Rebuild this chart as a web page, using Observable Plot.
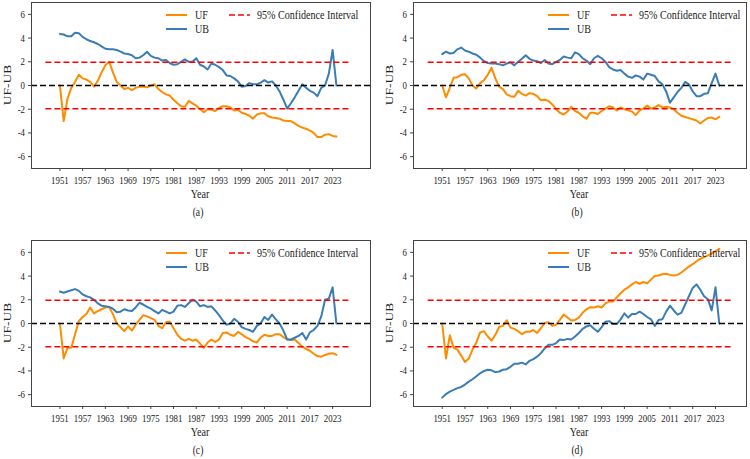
<!DOCTYPE html>
<html><head><meta charset="utf-8">
<script src="https://cdn.jsdelivr.net/npm/d3@7"></script>
<script src="https://cdn.jsdelivr.net/npm/@observablehq/plot@0.6"></script>
<style>
body{margin:0;background:#fff;}
#fig{position:relative;width:750px;height:459px;overflow:hidden;font-family:"Liberation Serif","Times New Roman",serif;color:#222;background:#fff;}
.panel{position:absolute;}
.lbl{position:absolute;font-size:13px;white-space:nowrap;transform:translate(-50%,-50%) scaleX(0.78);line-height:1;}
.cap{position:absolute;font-size:12px;white-space:nowrap;transform:translate(-50%,-50%) scaleX(0.8);line-height:1;}
.ylbl{position:absolute;font-size:13.5px;white-space:nowrap;transform:translate(-50%,-50%) scaleX(0.8) rotate(-90deg);line-height:1;}
.legtxt{position:absolute;font-size:12px;white-space:nowrap;transform-origin:0 50%;transform:translateY(-50%) scaleX(0.84);line-height:1;}
.legsw{position:absolute;overflow:visible;}
</style></head><body><div id="fig"></div>
<script>
const years = d3.range(1951, 2025);
const xTicks = [1951,1957,1963,1969,1975,1981,1987,1993,1999,2005,2011,2017,2023];
const yTicks = [-6,-4,-2,0,2,4,6];
const confLevel = 1.96;
const confSpan = [1947.3, 2027.7];
const seriesNames = ["UF", "UB"];
const confName = "95% Confidence Interval";
const captions = ["(a)", "(b)", "(c)", "(d)"];

const ufA = [0,-3.0,-1.1,-0.2,0.3,0.9,0.6,0.5,0.3,-0.1,
  0.4,1.1,1.7,2.0,1.1,0.3,0.0,-0.3,-0.2,-0.4,
  -0.2,-0.1,-0.1,-0.15,0.0,0.1,-0.3,-0.55,-0.75,-0.85,
  -1.2,-1.5,-1.75,-1.8,-1.3,-1.5,-1.7,-2.0,-2.25,-2.0,
  -2.05,-2.15,-1.9,-1.75,-1.75,-1.85,-2.1,-2.05,-2.3,-2.4,
  -2.55,-2.8,-2.45,-2.35,-2.35,-2.6,-2.7,-2.75,-2.8,-2.95,
  -3.0,-3.0,-3.2,-3.4,-3.55,-3.65,-3.8,-4.0,-4.35,-4.35,
  -4.15,-4.1,-4.25,-4.3];
const ubA = [4.35,4.3,4.15,4.15,4.45,4.4,4.1,3.9,3.75,3.65,
  3.5,3.3,3.1,3.05,3.05,3.0,2.85,2.7,2.65,2.55,
  2.3,2.35,2.55,2.85,2.5,2.35,2.3,2.1,2.15,1.9,
  1.75,1.8,2.0,2.2,2.0,2.0,2.3,1.75,1.6,1.35,
  1.85,1.75,1.55,1.3,0.85,0.8,0.6,0.35,-0.1,-0.05,
  0.2,0.1,0.1,0.25,0.45,0.25,0.35,0.0,-0.5,-1.2,
  -1.95,-1.5,-1.0,-0.45,0.1,-0.2,-0.45,-0.6,-0.9,-0.2,
  0.0,1.0,3.0,0];
const ufB = [0,-1.0,-0.2,0.65,0.7,0.9,0.95,0.6,0.0,-0.25,
  0.2,0.45,0.9,1.5,0.6,-0.1,-0.3,-0.75,-0.9,-0.95,
  -0.45,-0.7,-0.85,-0.65,-0.7,-0.9,-1.25,-1.2,-1.3,-1.6,
  -2.0,-2.3,-2.45,-2.2,-1.8,-2.15,-2.3,-2.6,-2.8,-2.3,
  -2.3,-2.4,-2.15,-1.95,-1.75,-1.85,-2.1,-1.85,-2.0,-2.1,
  -2.2,-2.5,-2.1,-1.95,-1.7,-1.95,-1.85,-1.65,-1.85,-1.8,
  -1.85,-2.0,-2.3,-2.55,-2.65,-2.75,-2.85,-2.95,-3.2,-2.95,
  -2.75,-2.7,-2.85,-2.65];
const ubB = [2.65,2.85,2.7,2.75,3.05,3.2,2.95,2.85,2.7,2.6,
  2.35,2.05,1.9,1.85,1.85,1.8,1.7,1.85,1.95,1.7,
  2.0,2.25,2.55,2.25,2.1,2.05,1.9,2.15,1.85,1.8,
  2.0,2.15,2.45,2.35,2.3,2.8,2.65,2.3,2.1,1.8,
  2.3,2.5,2.3,2.0,1.55,1.35,1.25,1.3,1.0,0.75,
  0.65,0.85,0.75,0.5,1.0,0.9,0.8,0.35,0.1,-0.5,
  -1.45,-1.0,-0.55,-0.2,0.3,0.1,-0.5,-0.9,-0.9,-0.7,
  -0.65,0.2,1.0,0];
const ufC = [0,-2.95,-2.05,-2.05,-0.9,0.2,0.55,0.8,1.35,0.85,
  1.05,1.2,1.35,1.4,0.8,0.0,-0.3,-0.65,-0.25,-0.6,
  -0.1,0.3,0.7,0.6,0.45,0.3,-0.2,-0.4,0.1,0.15,
  -0.4,-0.95,-1.3,-1.45,-1.3,-1.45,-1.35,-1.7,-2.05,-1.6,
  -1.35,-1.55,-1.35,-0.8,-0.75,-0.95,-1.05,-0.7,-0.9,-1.15,
  -1.3,-1.5,-1.6,-1.2,-0.95,-1.05,-1.05,-0.9,-0.9,-1.15,
  -1.35,-1.4,-1.35,-1.65,-1.95,-2.15,-2.3,-2.55,-2.75,-2.8,
  -2.65,-2.55,-2.5,-2.65];
const ubC = [2.7,2.6,2.7,2.8,2.9,2.75,2.45,2.3,2.2,2.0,
  1.7,1.5,1.45,1.4,1.25,0.95,1.0,1.2,1.1,1.05,
  1.35,1.75,1.6,1.4,1.25,1.05,0.85,1.15,1.0,0.85,
  1.0,1.5,1.55,1.4,1.7,2.0,1.85,1.45,1.55,1.4,
  1.45,1.1,0.7,0.25,-0.1,0.0,0.4,0.15,-0.3,-0.45,
  -0.55,-0.7,-0.2,0.0,0.55,0.3,0.75,0.35,0.0,-0.6,
  -1.35,-1.35,-1.2,-1.05,-0.8,-1.35,-0.75,-0.55,-0.2,0.6,
  2.0,2.1,3.05,0];
const ufD = [0,-2.95,-1.0,-2.05,-2.2,-2.7,-3.25,-2.95,-2.2,-1.6,
  -0.75,-0.65,-1.1,-1.45,-0.95,-0.3,-0.2,0.28,-0.35,-0.45,
  -0.65,-0.9,-0.7,-0.7,-0.55,-0.8,-0.4,0.05,0.1,-0.2,
  -0.1,0.3,0.75,0.5,0.25,0.3,0.5,0.9,1.2,1.38,
  1.35,1.45,1.35,1.7,1.85,1.85,2.2,2.55,2.85,3.05,
  3.3,3.5,3.35,3.5,3.4,3.7,4.0,4.05,4.15,4.2,
  4.1,4.05,4.1,4.3,4.55,4.8,5.0,5.25,5.45,5.6,
  5.75,5.9,6.1,6.3];
const ubD = [-6.25,-5.95,-5.75,-5.6,-5.45,-5.35,-5.15,-4.9,-4.7,-4.45,
  -4.2,-4.0,-3.9,-3.95,-4.1,-4.05,-3.9,-3.85,-3.65,-3.4,
  -3.4,-3.3,-3.45,-3.15,-3.0,-2.8,-2.5,-2.1,-1.8,-1.8,
  -1.65,-1.35,-1.4,-1.3,-1.35,-1.1,-0.8,-0.45,-0.25,-0.15,
  -0.45,-0.7,-0.3,0.15,0.2,-0.05,-0.05,0.35,0.85,0.5,
  0.8,0.8,1.0,0.8,0.55,0.35,-0.2,0.3,0.35,1.0,
  1.5,1.1,0.75,0.9,1.6,2.3,3.0,3.3,2.85,2.3,
  2.05,1.1,3.05,0];

const colors = {uf: "#ff8c00", ub: "#3a7cb6", conf: "#ff0000", zero: "#000000"};

const layout = [
  {uf: ufA, ub: ubA, left: 0,   top: 0,   ml: 31, mr: 5, dom: [1943.5, 2033]},
  {uf: ufB, ub: ubB, left: 375, top: 0,   ml: 38, mr: 4, dom: [1943.44, 2031.17]},
  {uf: ufC, ub: ubC, left: 0,   top: 238, ml: 31, mr: 5, dom: [1943.5, 2033]},
  {uf: ufD, ub: ubD, left: 375, top: 238, ml: 38, mr: 4, dom: [1943.44, 2031.17]}
];

const fig = document.getElementById("fig");
const W = 375, H = 200, MT = 2, MB = 32;
const FONT = '"Liberation Serif", "Times New Roman", serif';

layout.forEach((p, k) => {
  const rows = years.map((yr, i) => ({year: yr, uf: p.uf[i], ub: p.ub[i]}));
  const chart = Plot.plot({
    width: W, height: H,
    marginLeft: p.ml, marginRight: p.mr, marginTop: MT, marginBottom: MB,
    style: {fontFamily: FONT, fontSize: "11px", color: "#222", background: "transparent", overflow: "visible"},
    x: {domain: p.dom},
    y: {domain: [-7, 7]},
    marks: [
      Plot.lineY(rows, {x: "year", y: "uf", stroke: colors.uf, strokeWidth: 2}),
      Plot.lineY(rows, {x: "year", y: "ub", stroke: colors.ub, strokeWidth: 2}),
      Plot.ruleY([0], {stroke: colors.zero, strokeWidth: 1.6, strokeDasharray: "6,3"}),
      Plot.ruleY([-confLevel, confLevel], {x1: confSpan[0], x2: confSpan[1], stroke: colors.conf, strokeWidth: 1.6, strokeDasharray: "6,3"}),
      Plot.frame({stroke: "#444", strokeWidth: 1}),
      Plot.axisX({ticks: xTicks, tickFormat: d => String(d), tickSize: 3, tickPadding: 5, label: null, stroke: "#444", fill: "#222"}),
      Plot.axisY({ticks: yTicks, tickFormat: d => (d < 0 ? "-" + (-d) : String(d)), tickSize: 3, tickPadding: 3.5, label: null, stroke: "#444", fill: "#222"})
    ]
  });
  const wrap = document.createElement("div");
  wrap.className = "panel";
  wrap.style.left = p.left + "px";
  wrap.style.top = p.top + "px";
  wrap.appendChild(chart);
  fig.appendChild(wrap);
  // horizontally condense tick labels like the reference
  chart.querySelectorAll("text").forEach(t => {
    const w = t.getComputedTextLength();
    if (w > 0) {
      t.setAttribute("textLength", (w * 0.8).toFixed(2));
      t.setAttribute("lengthAdjust", "spacingAndGlyphs");
    }
  });

  const fl = p.left + p.ml, ft = p.top + MT;
  const fw = W - p.ml - p.mr;
  const cx = fl + fw / 2;

  const mk = (cls, txt, x, y) => {
    const d = document.createElement("div");
    d.className = cls; d.textContent = txt;
    d.style.left = x + "px"; d.style.top = y + "px";
    fig.appendChild(d); return d;
  };
  mk("lbl", "Year", cx - 1, p.top + 192.5);
  mk("ylbl", "UF-UB", fl - 23.5, ft + 83);
  mk("cap", captions[k], cx - 3, p.top + 212);

  // legend
  const sw = (x, y, color, dash) => {
    const s = document.createElementNS("http://www.w3.org/2000/svg", "svg");
    s.setAttribute("class", "legsw");
    s.setAttribute("width", 22); s.setAttribute("height", 4);
    s.style.left = x + "px"; s.style.top = (y - 2) + "px";
    const l = document.createElementNS("http://www.w3.org/2000/svg", "line");
    l.setAttribute("x1", 0); l.setAttribute("x2", 21);
    l.setAttribute("y1", 2); l.setAttribute("y2", 2);
    l.setAttribute("stroke", color); l.setAttribute("stroke-width", dash ? 1.6 : 2);
    if (dash) l.setAttribute("stroke-dasharray", "6,3");
    s.appendChild(l); fig.appendChild(s);
  };
  sw(fl + 135, ft + 13, colors.uf, false);
  mk("legtxt", seriesNames[0], fl + 163.5, ft + 13);
  sw(fl + 135, ft + 27.3, colors.ub, false);
  mk("legtxt", seriesNames[1], fl + 163.5, ft + 27.3);
  sw(fl + 197.5, ft + 13, colors.conf, true);
  mk("legtxt", confName, fl + 225.5, ft + 13);
});
</script></body></html>
